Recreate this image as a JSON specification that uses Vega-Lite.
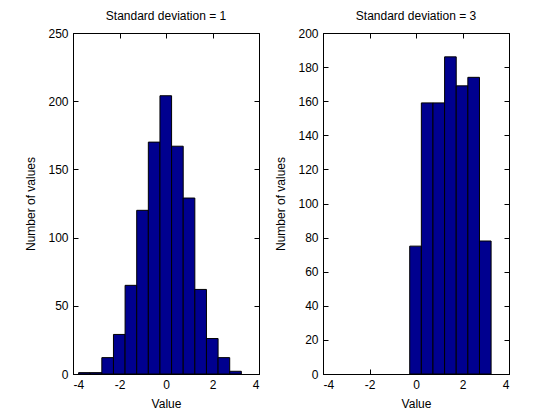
{
  "$schema": "https://vega.github.io/schema/vega-lite/v6.json",
  "background": "white",
  "padding": {"left": 24, "top": 9, "right": 5, "bottom": 5},
  "datasets": {
    "sd1": [
      {"start": -3.76, "end": -3.26, "count": 1},
      {"start": -3.26, "end": -2.76, "count": 1},
      {"start": -2.76, "end": -2.26, "count": 12},
      {"start": -2.26, "end": -1.76, "count": 29},
      {"start": -1.76, "end": -1.26, "count": 65},
      {"start": -1.26, "end": -0.76, "count": 120},
      {"start": -0.76, "end": -0.26, "count": 170},
      {"start": -0.26, "end": 0.24, "count": 204},
      {"start": 0.24, "end": 0.74, "count": 167},
      {"start": 0.74, "end": 1.24, "count": 129},
      {"start": 1.24, "end": 1.74, "count": 62},
      {"start": 1.74, "end": 2.24, "count": 26},
      {"start": 2.24, "end": 2.74, "count": 12},
      {"start": 2.74, "end": 3.24, "count": 2}
    ],
    "sd3": [
      {"start": -0.27, "end": 0.23, "count": 75},
      {"start": 0.23, "end": 0.73, "count": 159},
      {"start": 0.73, "end": 1.23, "count": 159},
      {"start": 1.23, "end": 1.73, "count": 186},
      {"start": 1.73, "end": 2.23, "count": 169},
      {"start": 2.23, "end": 2.73, "count": 174},
      {"start": 2.73, "end": 3.23, "count": 78}
    ]
  },
  "config": {
    "font": "Liberation Sans",
    "view": {"stroke": "black", "strokeWidth": 1},
    "axis": {
      "grid": false,
      "domainColor": "black",
      "tickColor": "black",
      "tickSize": -5,
      "labelColor": "black",
      "labelFontSize": 12,
      "labelPadding": 10,
      "labelExpr": "datum.value + ''",
      "titleColor": "black",
      "titleFontSize": 12,
      "titleFontWeight": "normal"
    },
    "title": {"fontSize": 12, "fontWeight": "normal", "color": "black", "offset": 0},
    "concat": {"spacing": 14}
  },
  "hconcat": [
    {
      "title": "Standard deviation = 1",
      "width": 186,
      "height": 341,
      "data": {"name": "sd1"},
      "layer": [
        {
          "mark": {"type": "rect", "color": "#00008f", "stroke": "black", "strokeWidth": 1},
          "encoding": {
            "x": {"field": "start", "type": "quantitative", "scale": {"domain": [-4, 4], "nice": false, "padding": 0}, "axis": {"values": [-4, -2, 0, 2, 4], "title": "Value", "labelPadding": 10, "titlePadding": 8}},
            "x2": {"field": "end"},
            "y": {"field": "count", "type": "quantitative", "scale": {"domain": [0, 250], "nice": false, "padding": 0}, "axis": {"values": [0, 50, 100, 150, 200, 250], "title": "Number of values", "titlePadding": 10}},
            "y2": {"datum": 0}
          }
        },
        {
          "mark": {"type": "rect", "opacity": 0},
          "encoding": {
            "x": {"field": "start", "type": "quantitative", "axis": {"orient": "top", "values": [-4, -2, 0, 2, 4], "labels": false, "title": null, "domain": false}},
            "x2": {"field": "end"},
            "y": {"field": "count", "type": "quantitative", "axis": {"orient": "right", "values": [0, 50, 100, 150, 200, 250], "labels": false, "title": null, "domain": false}},
            "y2": {"datum": 0}
          }
        }
      ],
      "resolve": {"axis": {"x": "independent", "y": "independent"}}
    },
    {
      "title": "Standard deviation = 3",
      "width": 186,
      "height": 341,
      "data": {"name": "sd3"},
      "layer": [
        {
          "mark": {"type": "rect", "color": "#00008f", "stroke": "black", "strokeWidth": 1},
          "encoding": {
            "x": {"field": "start", "type": "quantitative", "scale": {"domain": [-4, 4], "nice": false, "padding": 0}, "axis": {"values": [-4, -2, 0, 2, 4], "title": "Value", "labelPadding": 10, "titlePadding": 8}},
            "x2": {"field": "end"},
            "y": {"field": "count", "type": "quantitative", "scale": {"domain": [0, 200], "nice": false, "padding": 0}, "axis": {"values": [0, 20, 40, 60, 80, 100, 120, 140, 160, 180, 200], "title": "Number of values", "titlePadding": 10}},
            "y2": {"datum": 0}
          }
        },
        {
          "mark": {"type": "rect", "opacity": 0},
          "encoding": {
            "x": {"field": "start", "type": "quantitative", "axis": {"orient": "top", "values": [-4, -2, 0, 2, 4], "labels": false, "title": null, "domain": false}},
            "x2": {"field": "end"},
            "y": {"field": "count", "type": "quantitative", "axis": {"orient": "right", "values": [0, 20, 40, 60, 80, 100, 120, 140, 160, 180, 200], "labels": false, "title": null, "domain": false}},
            "y2": {"datum": 0}
          }
        }
      ],
      "resolve": {"axis": {"x": "independent", "y": "independent"}}
    }
  ]
}
